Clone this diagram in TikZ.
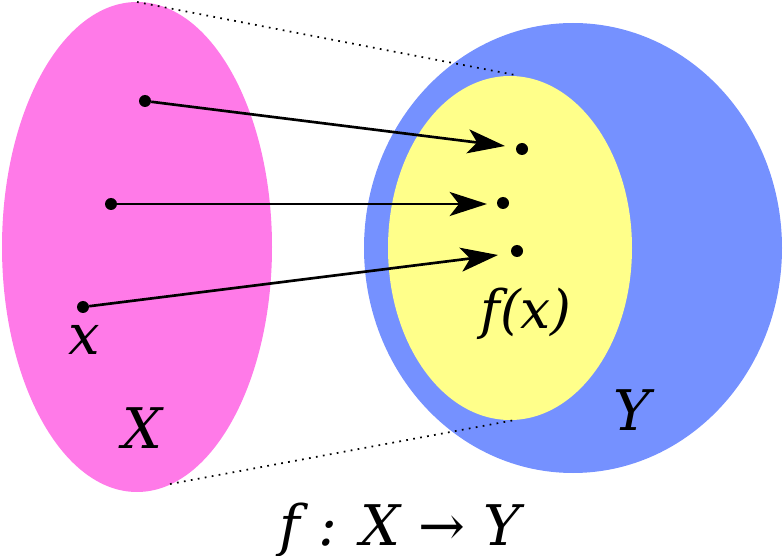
\documentclass[tikz,border=0pt]{standalone}
\usepackage{fontspec}
\setmainfont{DejaVu Serif}
\usetikzlibrary{arrows.meta}
\begin{document}
\begin{tikzpicture}[x=0.75pt,y=-0.75pt,
  dot/.style={circle,fill=black,inner sep=0pt,minimum size=9pt},
  arr/.style={line width=2pt,-{Stealth[length=28pt,width=18pt,inset=7pt]}},
  lab/.style={font=\fontsize{42}{44}\selectfont\itshape,inner sep=0pt}]
\useasboundingbox (0,0) rectangle (783,556);
\fill[fill={rgb,255:red,255;green,122;blue,232}] (137,247) ellipse [x radius=135,y radius=245];
\fill[fill={rgb,255:red,117;green,145;blue,255}] (573,248) ellipse [x radius=209,y radius=225];
\fill[fill={rgb,255:red,255;green,255;blue,138}] (510,248) ellipse [x radius=122,y radius=172];
\coordinate (t1) at (137,2); \coordinate (t2) at (515,75);
\coordinate (b1) at (170,484); \coordinate (b2) at (515,420);
\draw[line width=1.3pt,dash pattern=on 1.3pt off 4pt] (t1) -- (t2);
\draw[line width=1.3pt,dash pattern=on 1.3pt off 4pt] (b1) -- (b2);
\node[dot] (a1) at (145,101) {};
\node[dot] (a2) at (111,204) {};
\node[dot] (a3) at (83,307) {};
\node[dot] (c1) at (522,149) {};
\node[dot] (c2) at (503,203) {};
\node[dot] (c3) at (517,251) {};
\coordinate (e1) at (505,146); \coordinate (e2) at (487,204); \coordinate (e3) at (498,255);
\draw[arr] (a1) -- (e1);
\draw[arr] (a2) -- (e2);
\draw[arr] (a3) -- (e3);
\node[lab] (lx) at (84,340) {x};
\node[lab] (lX) at (142,428) {X};
\node[lab,font=\fontsize{40}{42}\selectfont\itshape] (lf) at (526,314) {f(x)};
\node[lab] (lY) at (632,410) {Y};
\node[lab] (lt) at (400,530) {f : X → Y};
\end{tikzpicture}
\end{document}
